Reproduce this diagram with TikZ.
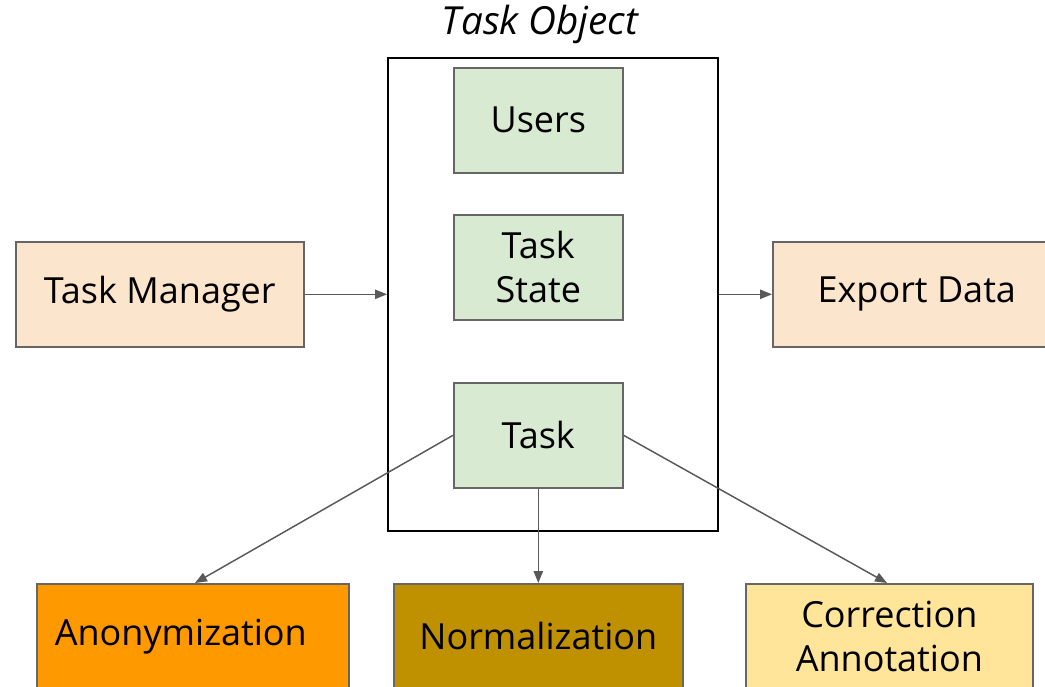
\documentclass[tikz,border=0pt]{standalone}
\usepackage{fontspec}
\setmainfont{Open Sans}
\usetikzlibrary{arrows.meta}
\definecolor{peach}{HTML}{FCE5CD}
\definecolor{lgreen}{HTML}{D9EAD3}
\definecolor{orng}{HTML}{FF9900}
\definecolor{gold}{HTML}{BF9000}
\definecolor{lyellow}{HTML}{FFE599}
\definecolor{edge}{HTML}{666666}
\definecolor{arr}{HTML}{595959}
\begin{document}
\begin{tikzpicture}[x=0.75pt,y=-0.75pt,
  box/.style={draw=edge,line width=1.2pt,inner sep=0pt,anchor=north west,align=center,font=\fontsize{27}{33}\selectfont},
  conn/.style={draw=arr,line width=1.1pt,-{Triangle[length=9pt,width=7pt]}}]
\useasboundingbox (0,0) rectangle (1045,686);
\clip (0,0) rectangle (1045,686);
\node[draw=black,line width=1.2pt,minimum width=330*0.75pt,minimum height=473*0.75pt,anchor=north west,inner sep=0pt] (obj) at (387,57) {};
\node[font=\itshape\fontsize{29}{33}\selectfont] (title) at (540,24) {Task Object};
\node[box,fill=lgreen,minimum width=169*0.75pt,minimum height=105*0.75pt] (users) at (453,67) {Users};
\node[box,fill=lgreen,minimum width=169*0.75pt,minimum height=105*0.75pt] (state) at (453,214) {Task\\State};
\node[box,fill=lgreen,minimum width=169*0.75pt,minimum height=105*0.75pt] (task) at (453,382) {Task};
\node[box,fill=peach,minimum width=288*0.75pt,minimum height=105*0.75pt] (tm) at (15,241) {Task Manager};
\node[box,fill=peach,minimum width=288*0.75pt,minimum height=105*0.75pt] (ed) at (772,241) {Export Data};
\node[box,fill=orng,minimum width=312*0.75pt,minimum height=105*0.75pt] (anon) at (36,583) {Anonymization\hspace*{18pt}};
\node[box,fill=gold,minimum width=289*0.75pt,minimum height=105*0.75pt] (norm) at (393,583) {Normalization};
\node[box,fill=lyellow,minimum width=287*0.75pt,minimum height=105*0.75pt] (corr) at (745,583) {Correction\\Annotation};
\draw[conn] (tm.east) -- (obj.west |- tm.east);
\draw[conn] (obj.east |- ed.west) -- (ed.west);
\draw[conn] (task.west) -- (anon.north -| 195,0);
\draw[conn] (task.south) -- (norm.north -| task.south);
\draw[conn] (task.east) -- (corr.north -| 887,0);
\end{tikzpicture}
\end{document}
